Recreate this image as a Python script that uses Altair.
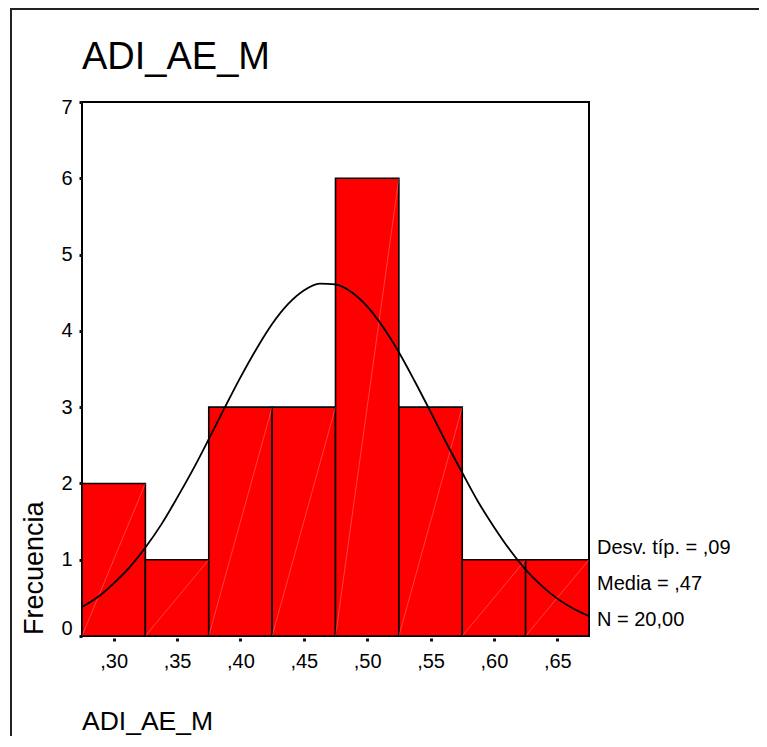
import altair as alt
import pandas as pd

# ---- data ----
BIN_START = [0.275, 0.325, 0.375, 0.425, 0.475, 0.525, 0.575, 0.625]
BIN_END = [0.325, 0.375, 0.425, 0.475, 0.525, 0.575, 0.625, 0.675]
COUNTS = [2, 1, 3, 3, 6, 3, 1, 1]

CURVE_X = [0.275, 0.2875, 0.30, 0.3125, 0.325, 0.3375, 0.35, 0.3625, 0.375, 0.3875,
           0.40, 0.4125, 0.425, 0.4375, 0.45, 0.4625, 0.475, 0.4875, 0.50, 0.5125,
           0.525, 0.5375, 0.55, 0.5625, 0.575, 0.5875, 0.60, 0.6125, 0.625, 0.6375,
           0.65, 0.6625, 0.675]
CURVE_Y = [0.38, 0.51, 0.69, 0.90, 1.16, 1.46, 1.81, 2.18, 2.58, 2.99,
           3.39, 3.76, 4.09, 4.35, 4.53, 4.62, 4.61, 4.51, 4.32, 4.05,
           3.72, 3.34, 2.94, 2.53, 2.14, 1.76, 1.43, 1.13, 0.87, 0.66,
           0.49, 0.36, 0.26]

X_TICKS = [0.30, 0.35, 0.40, 0.45, 0.50, 0.55, 0.60, 0.65]
Y_TICKS = [0, 1, 2, 3, 4, 5, 6, 7]

TITLE = "ADI_AE_M"
X_TITLE = "ADI_AE_M"
Y_TITLE = "Frecuencia"
STATS = ["Desv. típ. = ,09", "Media = ,47", "N = 20,00"]

FONT = "Liberation Sans, Arial, sans-serif"

bars_df = pd.DataFrame({"start": BIN_START, "end": BIN_END, "count": COUNTS})
curve_df = pd.DataFrame({"x": CURVE_X, "y": CURVE_Y})

xscale = alt.Scale(domain=[0.275, 0.675], nice=False, zero=False)
yscale = alt.Scale(domain=[0, 7], nice=False)

xaxis = alt.Axis(
    values=X_TICKS,
    labelExpr="replace(format(datum.value, '.2f'), '0.', ',')",
    title=None, domain=False, grid=False,
    offset=2, tickSize=3, tickWidth=3, tickColor="#111",
    labelPadding=10, labelFontSize=20, labelFont=FONT, labelColor="black",
)
yaxis = alt.Axis(
    values=Y_TICKS, format="d",
    title=None, domain=False, grid=False,
    tickSize=3, tickWidth=3, tickColor="#111",
    labelPadding=7, labelFontSize=20, labelFont=FONT, labelColor="black",
    labelOffset={"condition": [{"test": "datum.value == 0", "value": -8},
                               {"test": "datum.value == 7", "value": 5}],
                 "value": 0},
)

one = pd.DataFrame({"a": [0]})
border_left = alt.Chart(one).mark_rule(color="#222", strokeWidth=2).encode(
    x=alt.value(-71), y=alt.value(-93), y2=alt.value(700))
border_top = alt.Chart(one).mark_rule(color="#222", strokeWidth=2).encode(
    x=alt.value(-72), x2=alt.value(700), y=alt.value(-93))

bars = alt.Chart(bars_df).mark_rect(
    color="#ff0000", stroke="black", strokeWidth=1.6
).encode(
    x=alt.X("start:Q", scale=xscale, axis=xaxis),
    x2="end:Q",
    y=alt.Y("count:Q", scale=yscale, axis=yaxis),
    y2=alt.datum(0),
)

diag = alt.Chart(bars_df).mark_rule(
    color="white", opacity=0.25, strokeWidth=1
).encode(
    x=alt.X("start:Q", scale=xscale),
    x2="end:Q",
    y=alt.Y("zero:Q", scale=yscale),
    y2="count:Q",
).transform_calculate(zero="0")

curve = alt.Chart(curve_df).mark_line(
    color="black", strokeWidth=1.8, interpolate="monotone"
).encode(
    x=alt.X("x:Q", scale=xscale),
    y=alt.Y("y:Q", scale=yscale),
)

title_txt = alt.Chart(pd.DataFrame({"t": [TITLE]})).mark_text(
    align="left", baseline="alphabetic", fontSize=38, font=FONT, color="black"
).encode(x=alt.value(0), y=alt.value(-33), text="t:N")

xtitle_txt = alt.Chart(pd.DataFrame({"t": [X_TITLE]})).mark_text(
    align="left", baseline="alphabetic", fontSize=26.5, font=FONT, color="black"
).encode(x=alt.value(0), y=alt.value(628), text="t:N")

ytitle_txt = alt.Chart(pd.DataFrame({"t": [Y_TITLE]})).mark_text(
    align="left", baseline="alphabetic", fontSize=27, font=FONT, color="black", angle=270
).encode(x=alt.value(-39), y=alt.value(533), text="t:N")

stats_txt = alt.Chart(pd.DataFrame({"t": ["\n".join(STATS)]})).mark_text(
    align="left", baseline="alphabetic", fontSize=20, font=FONT, color="black",
    lineBreak="\n", lineHeight=36
).encode(x=alt.value(515), y=alt.value(452), text="t:N")

chart = alt.layer(
    border_left, border_top, bars, diag, curve,
    title_txt, xtitle_txt, ytitle_txt, stats_txt
).properties(
    width=507, height=534,
    autosize=alt.AutoSizeParams(type="none"),
    padding={"left": 74, "top": 94, "right": 170, "bottom": 100},
).configure(
    background="white"
).configure_view(
    stroke="black", strokeWidth=2
)

chart.save("out.html", embed_options={"renderer": "svg", "actions": False})
